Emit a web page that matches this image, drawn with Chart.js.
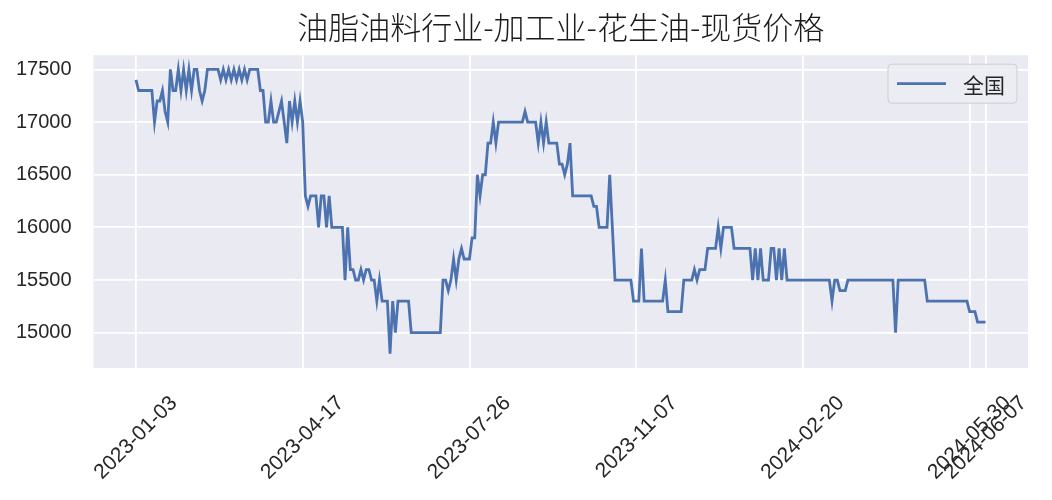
<!DOCTYPE html>
<html>
<head>
<meta charset="utf-8">
<script src="https://cdn.jsdelivr.net/npm/chart.js@4.4.1/dist/chart.umd.min.js"></script>
<style>
  html, body { margin: 0; padding: 0; background: #fff; }
</style>
</head>
<body>
<canvas id="priceChart" width="1052" height="500"></canvas>
<script>
const chartTitle = '油脂油料行业-加工业-花生油-现货价格';
const seriesName = '全国';

// x tick positions (point index) and their date labels
const xTickIdx = [0, 63, 126, 189, 252, 315, 321];
const xTickLabels = ['2023-01-03', '2023-04-17', '2023-07-26', '2023-11-07', '2024-02-20', '2024-05-30', '2024-06-07'];
const yTicks = [15000, 15500, 16000, 16500, 17000, 17500];

// daily spot price
const prices = [
    17400, 17300, 17300, 17300, 17300, 17300, 17300, 17000, 17200, 17200,
    17300, 17100, 17000, 17500, 17300, 17300, 17500, 17300, 17500, 17300,
    17500, 17300, 17500, 17500, 17300, 17200, 17300, 17500, 17500, 17500,
    17500, 17500, 17400, 17500, 17400, 17500, 17400, 17500, 17400, 17500,
    17400, 17500, 17400, 17500, 17500, 17500, 17500, 17300, 17300, 17000,
    17000, 17200, 17000, 17000, 17100, 17200, 17000, 16800, 17200, 17000,
    17200, 17000, 17200, 17000, 16300, 16200, 16300, 16300, 16300, 16000,
    16300, 16300, 16000, 16300, 16000, 16000, 16000, 16000, 16000, 15500,
    16000, 15600, 15600, 15500, 15500, 15600, 15500, 15600, 15600, 15500,
    15500, 15300, 15500, 15300, 15300, 15300, 14800, 15300, 15000, 15300,
    15300, 15300, 15300, 15300, 15000, 15000, 15000, 15000, 15000, 15000,
    15000, 15000, 15000, 15000, 15000, 15000, 15500, 15500, 15400, 15500,
    15700, 15500, 15700, 15800, 15700, 15700, 15700, 15900, 15900, 16500,
    16300, 16500, 16500, 16800, 16800, 17000, 16800, 17000, 17000, 17000,
    17000, 17000, 17000, 17000, 17000, 17000, 17000, 17100, 17000, 17000,
    17000, 17000, 16800, 17000, 16800, 17000, 16800, 16800, 16800, 16800,
    16600, 16600, 16500, 16600, 16800, 16300, 16300, 16300, 16300, 16300,
    16300, 16300, 16300, 16200, 16200, 16000, 16000, 16000, 16000, 16500,
    16000, 15500, 15500, 15500, 15500, 15500, 15500, 15500, 15300, 15300,
    15300, 15800, 15300, 15300, 15300, 15300, 15300, 15300, 15300, 15300,
    15500, 15200, 15200, 15200, 15200, 15200, 15200, 15500, 15500, 15500,
    15500, 15600, 15500, 15600, 15600, 15600, 15800, 15800, 15800, 15800,
    16000, 15800, 16000, 16000, 16000, 16000, 15800, 15800, 15800, 15800,
    15800, 15800, 15800, 15500, 15800, 15500, 15800, 15500, 15500, 15500,
    15800, 15800, 15500, 15800, 15500, 15800, 15500, 15500, 15500, 15500,
    15500, 15500, 15500, 15500, 15500, 15500, 15500, 15500, 15500, 15500,
    15500, 15500, 15500, 15300, 15500, 15500, 15400, 15400, 15400, 15500,
    15500, 15500, 15500, 15500, 15500, 15500, 15500, 15500, 15500, 15500,
    15500, 15500, 15500, 15500, 15500, 15500, 15500, 15000, 15500, 15500,
    15500, 15500, 15500, 15500, 15500, 15500, 15500, 15500, 15500, 15300,
    15300, 15300, 15300, 15300, 15300, 15300, 15300, 15300, 15300, 15300,
    15300, 15300, 15300, 15300, 15300, 15200, 15200, 15200, 15100, 15100,
    15100, 15100
];

const lineColor = '#4C72B0';
const lastIdx = prices.length - 1;

// grey plot background like seaborn darkgrid
const bgPlugin = {
    id: 'bg',
    beforeDraw(chart) {
        const { ctx, chartArea: a } = chart;
        ctx.save();
        ctx.fillStyle = '#ffffff';
        ctx.fillRect(0, 0, chart.width, chart.height);
        ctx.fillStyle = '#EAEAF2';
        ctx.fillRect(a.left, a.top, a.right - a.left, a.bottom - a.top);
        ctx.restore();
    }
};

// framed legend in the upper right corner of the plot
const legendBox = {
    id: 'legendBox',
    afterDatasetsDraw(chart) {
        const { ctx, chartArea: a } = chart;
        const ds = chart.data.datasets[0];
        const w = 129, h = 39;
        const x = a.right - 11 - w, y = a.top + 9;
        ctx.save();
        ctx.beginPath();
        ctx.roundRect(x, y, w, h, 4);
        ctx.fillStyle = 'rgba(236,236,243,0.9)';
        ctx.fill();
        ctx.strokeStyle = '#cdcdd2';
        ctx.lineWidth = 1;
        ctx.stroke();
        ctx.beginPath();
        ctx.moveTo(x + 9, y + h / 2);
        ctx.lineTo(x + 58, y + h / 2);
        ctx.strokeStyle = ds.borderColor;
        ctx.lineWidth = 2.8;
        ctx.stroke();
        ctx.fillStyle = '#262626';
        ctx.font = '21px "Noto Sans CJK SC"';
        ctx.textBaseline = 'middle';
        ctx.fillText(ds.label, x + 75, y + h / 2 + 1);
        ctx.restore();
    }
};

const ctx = document.getElementById('priceChart').getContext('2d');
const priceChart = new Chart(ctx, {
    type: 'line',
    data: {
        datasets: [
            {
                label: seriesName,
                data: prices.map((v, i) => ({ x: i, y: v })),
                borderColor: lineColor,
                backgroundColor: lineColor,
                borderWidth: 2.8,
                pointRadius: 0,
                tension: 0,
                fill: false
            }
        ]
    },
    options: {
        responsive: false,
        animation: false,
        devicePixelRatio: 1,
        layout: {
            padding: { left: 0, right: 24, top: 0, bottom: 0 }
        },
        scales: {
            x: {
                type: 'linear',
                min: -0.05 * lastIdx,
                max: lastIdx * 1.05,
                border: { display: false },
                grid: { color: '#ffffff', lineWidth: 1.8, drawTicks: false },
                afterBuildTicks: (scale) => {
                    scale.ticks = xTickIdx.map(v => ({ value: v }));
                },
                afterFit: (scale) => { scale.height = 132; },
                ticks: {
                    autoSkip: false,
                    minRotation: 45,
                    maxRotation: 45,
                    padding: 23,
                    labelOffset: 38,
                    color: '#262626',
                    font: { family: '"Liberation Sans", Arial, sans-serif', size: 21 },
                    callback: (v) => xTickLabels[xTickIdx.indexOf(v)]
                }
            },
            y: {
                type: 'linear',
                min: 14665,
                max: 17635,
                border: { display: false },
                grid: { color: '#ffffff', lineWidth: 1.8, drawTicks: false },
                afterBuildTicks: (scale) => {
                    scale.ticks = yTicks.map(v => ({ value: v }));
                },
                afterFit: (scale) => { scale.width = 93.5; },
                ticks: {
                    padding: 22,
                    color: '#262626',
                    font: { family: '"Liberation Sans", Arial, sans-serif', size: 20 },
                    callback: (v) => String(v)
                }
            }
        },
        plugins: {
            legend: { display: false },
            tooltip: { enabled: false },
            title: {
                display: true,
                text: chartTitle,
                fullSize: false,
                color: '#1a1a1a',
                font: { family: '"Noto Sans CJK SC", sans-serif', size: 31, weight: 300 },
                padding: { top: 9, bottom: 9 }
            }
        }
    },
    plugins: [bgPlugin, legendBox]
});
</script>
</body>
</html>
